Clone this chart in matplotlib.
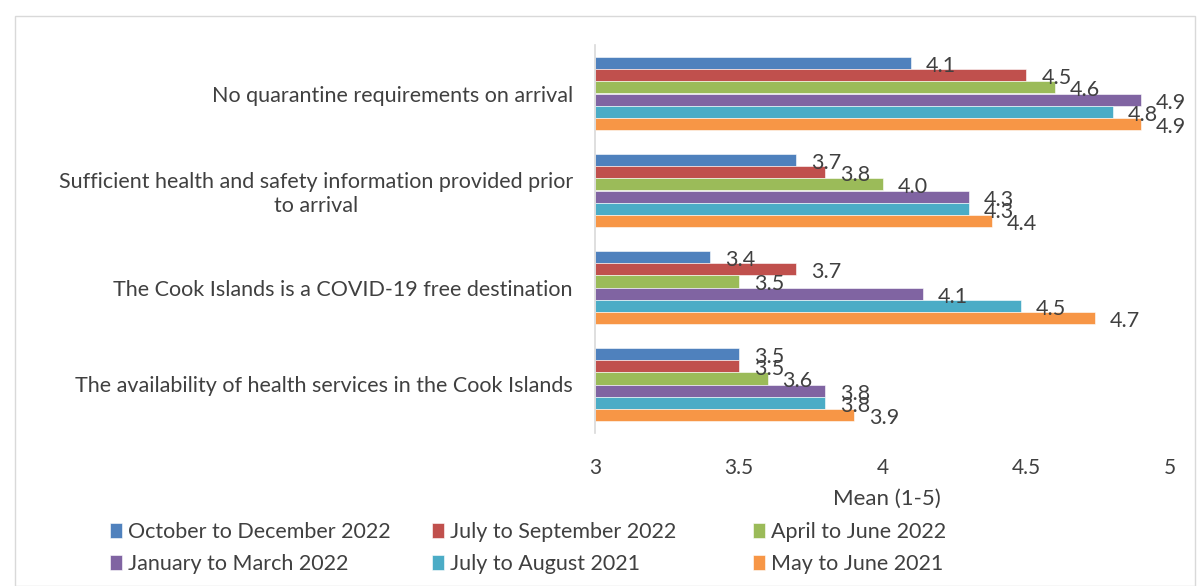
import matplotlib
matplotlib.use("Agg")
import matplotlib.pyplot as plt
import numpy as np
from matplotlib.patches import Rectangle

# categories top to bottom
categories = [
    "No quarantine requirements on arrival",
    "Sufficient health and safety information provided prior\nto arrival",
    "The Cook Islands is a COVID-19 free destination",
    "The availability of health services in the Cook Islands",
]
series = [
    "October to December 2022",
    "July to September 2022",
    "April to June 2022",
    "January to March 2022",
    "July to August 2021",
    "May to June 2021",
]
oct_dec_2022 = [4.1, 3.7, 3.4, 3.5]
jul_sep_2022 = [4.5, 3.8, 3.7, 3.5]
apr_jun_2022 = [4.6, 4.0, 3.5, 3.6]
jan_mar_2022 = [4.9, 4.3, 4.14, 3.8]
jul_aug_2021 = [4.8, 4.3, 4.48, 3.8]
may_jun_2021 = [4.9, 4.38, 4.74, 3.9]
values = [oct_dec_2022, jul_sep_2022, apr_jun_2022, jan_mar_2022, jul_aug_2021, may_jun_2021]
colors = ["#4F81BD", "#C0504D", "#9BBB59", "#8064A2", "#4BACC6", "#F79646"]

plt.rcParams['font.family'] = ['Lato', 'DejaVu Sans']

fig = plt.figure(figsize=(11.98, 5.86), dpi=100)
ax = fig.add_axes([595/1198, 1-433/586, (1170-595)/1198, (433-45)/586])

h = 0.127
ypos = np.arange(len(categories))
for i, (name, vals) in enumerate(zip(series, values)):
    y = ypos + (i - 2.5) * h
    ax.barh(y, np.array(vals) - 3, left=3, height=h, color=colors[i],
            edgecolor="white", linewidth=0.4, label=name)
    for yy, v in zip(y, vals):
        ax.annotate(f"{v:.1f}", xy=(v, yy), xytext=(15, -3), textcoords="offset pixels",
                    ha="left", va="center", fontsize=15.5, color="#404040")

ax.set_xlim(3, 5)
ax.set_ylim(3.5, -0.5)
ax.set_yticks(ypos)
ax.set_yticklabels(categories, fontsize=15.5, color="#404040")
ax.set_xticks([3, 3.5, 4, 4.5, 5])
ax.set_xticklabels(["3", "3.5", "4", "4.5", "5"], fontsize=15, color="#404040")
ax.tick_params(axis="y", length=0, pad=16)
ax.tick_params(axis="x", length=0, pad=18)
for s in ["top", "right", "bottom"]:
    ax.spines[s].set_visible(False)
ax.spines["left"].set_color("#D9D9D9")
ax.spines["left"].set_linewidth(1.2)
for lbl in ax.get_yticklabels():
    lbl.set_multialignment("center")

fig.text(887/1198, 1-499/586, "Mean (1-5)", ha="center", va="center", fontsize=16, color="#404040")

# legend: three fixed-width columns, filled row by row
handles, labels = ax.get_legend_handles_labels()
col_x = [110, 432, 753]
for c in range(3):
    idx = [c, c + 3]
    leg = fig.legend([handles[k] for k in idx], [labels[k] for k in idx],
                     loc="center left", bbox_to_anchor=(col_x[c]/1198, 1-548/586),
                     frameon=False, borderpad=0, borderaxespad=0, fontsize=15.5,
                     handlelength=0.55, handleheight=0.7, handletextpad=0.3,
                     labelspacing=0.55)
    for t in leg.get_texts():
        t.set_color("#404040")

fig.patches.append(Rectangle((15/1198, 0), 1180/1198, 1-16/586, transform=fig.transFigure,
                             fill=False, edgecolor="#D9D9D9", linewidth=1))

fig.savefig("out.png", dpi=100)
